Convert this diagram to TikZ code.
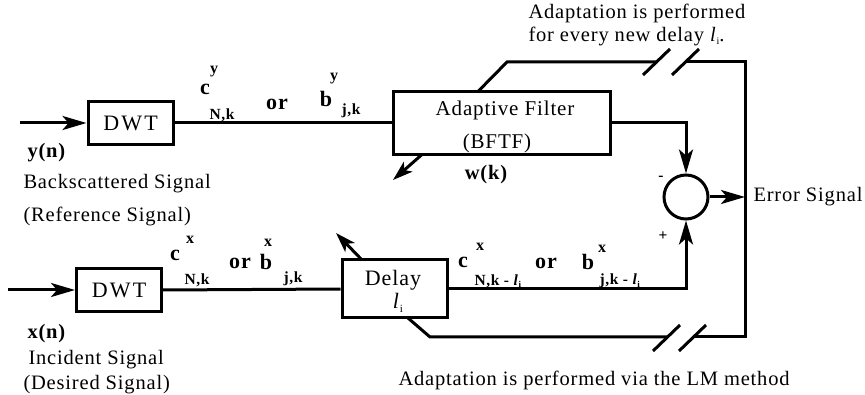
\documentclass[tikz,border=0pt]{standalone}
\usepackage{fontspec}
\setmainfont{Liberation Serif}[LetterSpace=4]
\newfontfamily\widefont{Liberation Serif}[LetterSpace=10]
\usetikzlibrary{arrows.meta}
\newcommand{\lsub}[1]{\textit{l}\raisebox{-0.35ex}{\fontsize{#1}{#1}\selectfont i}}
\begin{document}
\begin{tikzpicture}[x=1pt,y=-1pt, line width=3pt,
  box/.style={draw, line width=3pt, inner sep=0pt, font=\fontsize{22}{25}\widefont},
  lbl/.style={inner sep=0pt, font=\fontsize{20.5}{24}\selectfont},
  bl/.style={inner sep=0pt, font=\fontsize{22}{25}\selectfont\bfseries},
  sub/.style={inner sep=0pt, font=\fontsize{15.5}{18}\selectfont\bfseries},
  sup/.style={inner sep=0pt, font=\fontsize{16}{18}\selectfont\bfseries},
  arr/.style={-{Stealth[length=24pt,width=14pt,inset=6pt]}},
  sarr/.style={-{Stealth[length=20pt,width=13pt,inset=5pt]}},
  slash/.style={line width=3pt}
]
\useasboundingbox (0,0) rectangle (865,395);

% blocks
\node[box, minimum width=85pt, minimum height=43pt] (dwt1) at (130.5,123) {DWT};
\node[box, minimum width=217pt, minimum height=63pt] (filt) at (501.5,123) {};
\node[lbl, font=\fontsize{21}{24}\selectfont] (aft) at (505,110) {Adaptive Filter};
\node[lbl, font=\fontsize{21}{24}\selectfont] (bftf) at (497,143) {(BFTF)};
\node[box, minimum width=85pt, minimum height=43pt] (dwt2) at (119,290) {DWT};
\node[box, minimum width=105pt, minimum height=58pt] (delay) at (394.5,289) {};
\node[lbl, font=\fontsize{22}{25}\selectfont] (delaytxt) at (393,280) {Delay};
\node[lbl, font=\fontsize{22}{25}\selectfont] (delayli) at (398,303) {\lsub{11}};
\node[circle, draw, line width=3pt, minimum size=44pt, inner sep=0pt] (sum) at (686,197) {};

% coordinates
\coordinate (in1) at (20,123);
\coordinate (in2) at (8,290);
\coordinate (err) at (745,197);
\coordinate (t0) at (478,91.5);
\coordinate (t1) at (507,62);
\coordinate (t2) at (657,62);
\coordinate (t3) at (686,62);
\coordinate (t4) at (745,62);
\coordinate (b4) at (745,337);
\coordinate (b3) at (693,337);
\coordinate (b2) at (667,337);
\coordinate (b1) at (430,337);
\coordinate (b0) at (408,318);
\coordinate (fa0) at (422,154.5);
\coordinate (fa1) at (393,180);
\coordinate (da0) at (362,260);
\coordinate (da1) at (336,233);

% connectors
\draw[arr] (in1) -- (dwt1.west);
\draw (dwt1.east) -- (filt.west);
\draw[arr] (filt.east) -| (sum.north);
\draw[arr] (sum.east) -- (err);
\draw[arr] (in2) -- (dwt2.west);
\draw (dwt2.east) -- (delay.west);
\draw[arr] (delay.east) -| (sum.south);

% adaptation loop
\draw[line join=miter] (t0) -- (t1) -- (t2);
\draw[line join=miter] (t3) -- (t4) -- (b4) -- (b3);
\draw[line join=miter] (b2) -- (b1) -- (b0);
\draw[slash] ([shift={(-14,13)}]t2) -- ([shift={(13,-13)}]t2);
\draw[slash] ([shift={(-14,13)}]t3) -- ([shift={(13,-13)}]t3);
\draw[slash] ([shift={(-14,14)}]b2) -- ([shift={(13,-12)}]b2);
\draw[slash] ([shift={(-14,14)}]b3) -- ([shift={(13,-12)}]b3);

% adjustment arrows
\draw[sarr] (fa0) -- (fa1);
\draw[sarr] (da0) -- (da1);

% left labels
\node[bl, font=\fontsize{20.5}{24}\selectfont\bfseries, anchor=west] (yn) at (26,153) {y(n)};
\node[lbl, anchor=west] (bs) at (22,184) {Backscattered Signal};
\node[lbl, anchor=west] (rs) at (22,216) {(Reference Signal)};
\node[bl, font=\fontsize{20.5}{24}\selectfont\bfseries, anchor=west] (xn) at (26,334) {x(n)};
\node[lbl, anchor=west] (is) at (27,360) {Incident Signal};
\node[lbl, anchor=west] (ds) at (22,385) {(Desired Signal)};

% top signal labels
\node[bl] (c1) at (205,89) {c};
\node[sup] (c1s) at (214,72) {y};
\node[sub] (c1b) at (222,115) {N,k};
\node[bl] (or1) at (277,104) {or};
\node[bl] (b1l) at (326,99) {b};
\node[sup] (b1s) at (334,79) {y};
\node[sub] (b1b) at (351,111) {j,k};

% bottom signal labels
\node[bl] (c2) at (175,255) {c};
\node[sup] (c2s) at (190,240) {x};
\node[sub] (c2b) at (197,280) {N,k};
\node[bl] (or2) at (240,263) {or};
\node[bl] (b2l) at (266,262) {b};
\node[sup] (b2s) at (268,243) {x};
\node[sub] (b2b) at (293,279) {j,k};

% delayed labels
\node[bl] (c3) at (463,262) {c};
\node[sup] (c3s) at (480,247) {x};
\node[sub, anchor=west] (c3b) at (473,281) {N,k - \lsub{9}};
\node[bl] (or3) at (546,263) {or};
\node[bl] (b3l) at (588,262) {b};
\node[sup] (b3s) at (602,249) {x};
\node[sub, anchor=west] (b3b) at (598,281) {j,k - \lsub{9}};

% other labels
\node[bl, font=\fontsize{20.5}{24}\selectfont\bfseries] (wk) at (486,175) {w(k)};
\node[lbl, anchor=west] (ad1) at (527,13) {Adaptation is performed};
\node[lbl, anchor=west] (ad2) at (527,36) {for every new delay \lsub{10}.};
\node[lbl, anchor=west] (ad3) at (397,380) {Adaptation is performed via the LM method};
\node[lbl, anchor=west] (es) at (752,197) {Error Signal};
\node[sub] (minus) at (661,178) {-};
\node[sub] (plus) at (663,236) {+};
\end{tikzpicture}
\end{document}
